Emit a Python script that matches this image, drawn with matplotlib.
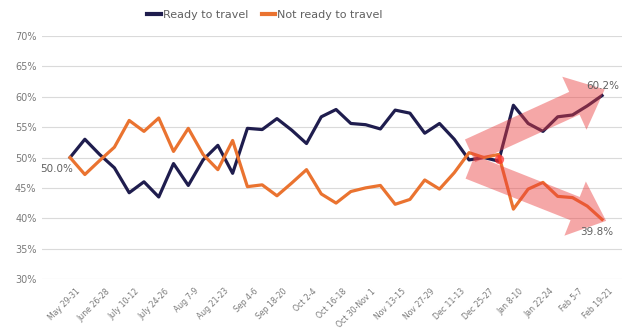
import matplotlib.pyplot as plt
import numpy as np
from matplotlib.patches import FancyArrowPatch
from matplotlib.transforms import ScaledTranslation

# survey waves (every other wave is labelled)
tick_labels = ["May 29-31", "June 26-28", "July 10-12", "July 24-26", "Aug 7-9",
               "Aug 21-23", "Sep 4-6", "Sep 18-20", "Oct 2-4", "Oct 16-18",
               "Oct 30-Nov 1", "Nov 13-15", "Nov 27-29", "Dec 11-13", "Dec 25-27",
               "Jan 8-10", "Jan 22-24", "Feb 5-7", "Feb 19-21"]

ready = [50.0, 53.0, 50.5, 48.3, 44.2, 46.0, 43.5, 49.0, 45.4, 49.6,
         52.0, 47.4, 54.8, 54.6, 56.4, 54.5, 52.3, 56.7, 57.9, 55.6,
         55.4, 54.7, 57.8, 57.3, 54.0, 55.6, 53.0, 49.6, 50.0, 49.4,
         58.6, 55.6, 54.3, 56.7, 57.0, 58.5, 60.2]
not_ready = [50.0, 47.2, 49.5, 51.7, 56.1, 54.3, 56.5, 51.0, 54.8, 50.5,
             48.0, 52.8, 45.2, 45.5, 43.7, 45.8, 48.0, 44.0, 42.5, 44.4,
             45.0, 45.4, 42.3, 43.1, 46.3, 44.8, 47.5, 50.8, 50.0, 50.5,
             41.5, 44.8, 45.9, 43.6, 43.4, 42.0, 39.8]

x = np.arange(len(ready))
navy = '#1f1d4e'
orange = '#ea7330'
grey = '#7a7a7a'

fig = plt.figure(figsize=(6.28, 3.31), dpi=100)
ax = fig.add_axes([42/628, 1-279/331, 580/628, 243/331])

ax.plot(x, ready, color=navy, lw=2.3, label='Ready to travel', zorder=3)
ax.plot(x, not_ready, color=orange, lw=2.3, label='Not ready to travel', zorder=3)

ax.set_ylim(30, 70)
ax.set_xlim(-1.9, 37.35)
ax.set_yticks(np.arange(30, 71, 5))
ax.set_yticklabels([f'{v}%' for v in range(30, 71, 5)])
ax.yaxis.grid(True, color='#dadada', lw=0.8)
ax.set_axisbelow(True)
for s in ax.spines.values():
    s.set_visible(False)
ax.tick_params(length=0, labelsize=7, labelcolor=grey)
ax.tick_params(axis='y', pad=4)

ax.set_xticks(x[::2])
ax.set_xticklabels(tick_labels, rotation=45, ha='right', va='center',
                   rotation_mode='anchor', fontsize=5.6)
off = ScaledTranslation(9/100, -6/100, fig.dpi_scale_trans)
for lab in ax.get_xticklabels():
    lab.set_transform(lab.get_transform() + off)

# trend arrows
pink = (0.92, 0.24, 0.24, 0.45)
style = 'simple,tail_width=18,head_width=42,head_length=24'
up = FancyArrowPatch((x[27] - 0.1, 50.9), (x[-1] + 0.35, ready[-1] + 1.2),
                     arrowstyle=style, mutation_scale=1, fc=pink, ec='none', zorder=5)
down = FancyArrowPatch((x[27] - 0.1, 48.6), (x[-1] + 0.45, not_ready[-1] - 0.4),
                       arrowstyle=style, mutation_scale=1, fc=pink, ec='none', zorder=5)
ax.add_patch(up)
ax.add_patch(down)
ax.scatter([x[29]], [ready[29] + 0.3], s=45, color='#ff2a2a', alpha=0.7, zorder=4, lw=0)

# value labels
ax.annotate(f'{ready[0]:.1f}%', (x[0], ready[0]), xytext=(-13, -11),
            textcoords='offset pixels', ha='center', va='center', fontsize=7.5, color='#606060')
ax.annotate(f'{ready[-1]:.1f}%', (x[-1], ready[-1]), xytext=(1, 10),
            textcoords='offset pixels', ha='center', va='center', fontsize=7.5, color='#606060', zorder=6)
ax.annotate(f'{not_ready[-1]:.1f}%', (x[-1], not_ready[-1]), xytext=(-5, -13),
            textcoords='offset pixels', ha='center', va='center', fontsize=7.5, color='#606060', zorder=6)

leg = fig.legend(loc='center', bbox_to_anchor=(265/628, 1-15/331), ncol=2, frameon=False,
                 fontsize=8, labelcolor='#606060', handlelength=1.2, handletextpad=0.2,
                 columnspacing=1.2)
for h in leg.get_lines():
    h.set_linewidth(3)

fig.savefig('out.png', dpi=100)
